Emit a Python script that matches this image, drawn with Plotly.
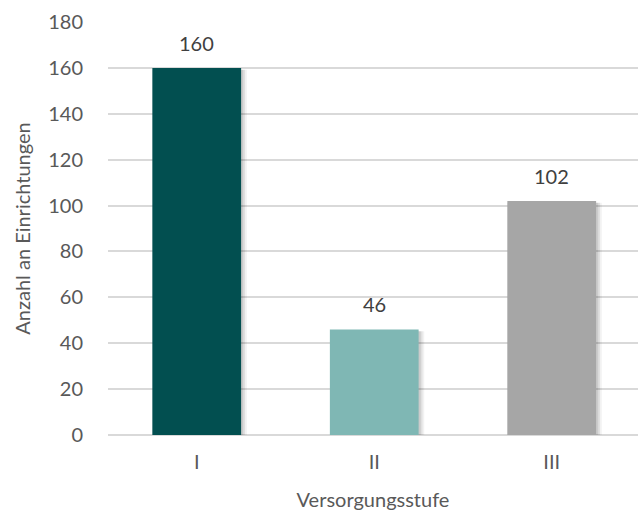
import plotly.graph_objects as go

categories = ["I", "II", "III"]
values = [160, 46, 102]
colors = ["#024f50", "#7fb7b4", "#a6a6a6"]
y_ticks = [0, 20, 40, 60, 80, 100, 120, 140, 160, 180]

font_family = "Lato, Open Sans, Liberation Sans, sans-serif"
txt = "#595959"

fig = go.Figure()
# soft drop shadow behind the bars
for w, a in [(0.53, 0.05), (0.52, 0.07), (0.51, 0.09)]:
    fig.add_trace(go.Bar(
        x=categories, y=values, base=-0.8, width=w, offset=-0.248,
        marker=dict(color=f"rgba(0,0,0,{a})", line=dict(width=0)),
        hoverinfo="skip", cliponaxis=False,
    ))
fig.add_trace(go.Bar(
    x=categories, y=values, width=0.5, offset=-0.25,
    marker=dict(color=colors, line=dict(width=0)),
    cliponaxis=False,
))

for c, v in zip(categories, values):
    fig.add_annotation(x=c, y=v, text=str(v), showarrow=False, yshift=25,
                       font=dict(size=20, color="#404040", family=font_family))

fig.update_layout(
    width=638, height=512,
    margin=dict(l=108, r=0, t=22, b=77, autoexpand=False),
    paper_bgcolor="white", plot_bgcolor="white",
    barmode="overlay",
    showlegend=False,
    font=dict(family=font_family, color=txt, size=20),
    xaxis=dict(
        title=dict(text="Versorgungsstufe", font=dict(size=20, color=txt), standoff=20),
        tickfont=dict(size=20, color=txt),
        range=[-0.5, 2.486],
        showline=False, ticks="", showgrid=False, zeroline=False,
        ticklabelstandoff=13, automargin=False,
    ),
    yaxis=dict(
        title=dict(text="Anzahl an Einrichtungen", font=dict(size=20, color=txt), standoff=12),
        range=[0, 180], tickvals=y_ticks,
        tickfont=dict(size=20, color=txt),
        showgrid=True, gridcolor="#d9d9d9", gridwidth=1.5,
        zeroline=True, zerolinecolor="#d9d9d9", zerolinewidth=2,
        ticks="outside", ticklen=20, tickcolor="rgba(255,255,255,0)",
        automargin=False,
    ),
)

fig.write_html("out.html", config={"displayModeBar": False},
               post_script="document.body.style.margin='0';")
